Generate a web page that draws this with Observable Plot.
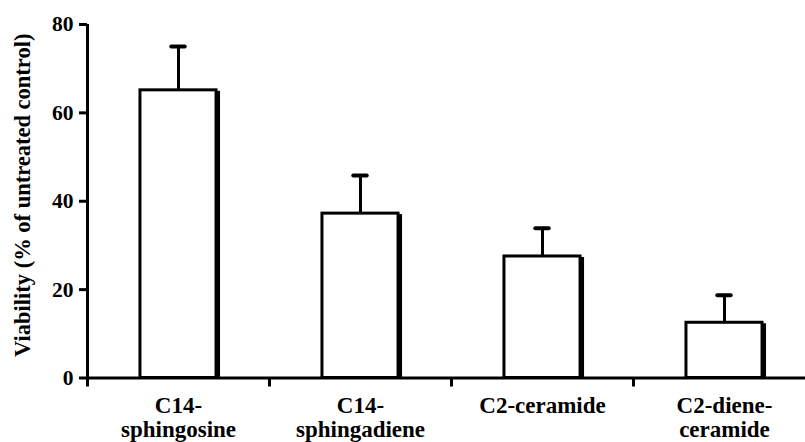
<!DOCTYPE html>
<html>
<head>
<meta charset="utf-8">
<script src="https://cdn.jsdelivr.net/npm/d3@7"></script>
<script src="https://cdn.jsdelivr.net/npm/@observablehq/plot@0.6"></script>
<style>
  html, body { margin: 0; padding: 0; background: #fff; }
</style>
</head>
<body>
<div id="chart"></div>
<script>
const categories = ["C14-\nsphingosine", "C14-\nsphingadiene", "C2-ceramide", "C2-diene-\nceramide"];
const viability = [65.1, 37.2, 27.5, 12.5];
const errorTop = [75.0, 45.8, 33.9, 18.7];
const yTicks = [0, 20, 40, 60, 80];
const yTitle = "Viability (% of untreated control)";

const data = categories.map((label, i) => ({i, label, v: viability[i], e: errorTop[i]}));
const hw = 0.209;   // half bar width in band units
const cw = 0.037;   // half cap width

const chart = Plot.plot({
  width: 805,
  height: 442,
  marginLeft: 87,
  marginRight: 0,
  marginTop: 24,
  marginBottom: 64.5,
  style: {fontFamily: "Liberation Serif", fontWeight: "bold", fontSize: "21px", color: "black", background: "white"},
  x: {type: "linear", domain: [0, 4], range: [87, 815]},
  y: {domain: [0, 80], nice: false},
  marks: [
    Plot.rect(data, {x1: d => d.i + 0.5 - hw, x2: d => d.i + 0.5 + hw, y1: 0, y2: "v", fill: "black", dx: 4, dy: 1}),
    Plot.rect(data, {x1: d => d.i + 0.5 - hw, x2: d => d.i + 0.5 + hw, y1: 0, y2: "v", fill: "white", stroke: "black", strokeWidth: 3}),
    Plot.ruleX(data, {x: d => d.i + 0.5, y1: "v", y2: "e", stroke: "black", strokeWidth: 3}),
    Plot.ruleY(data, {y: "e", x1: d => d.i + 0.5 - cw, x2: d => d.i + 0.5 + cw, stroke: "black", strokeWidth: 4, strokeLinecap: "round"}),
    Plot.ruleY([0], {stroke: "black", strokeWidth: 3}),
    Plot.ruleX([0], {y1: 0, y2: 80, stroke: "black", strokeWidth: 3}),
    Plot.axisY({ticks: yTicks, tickSize: 8, tickFormat: () => "", strokeWidth: 3, label: null}),
    Plot.text(yTicks, {x: 0, y: d => d, text: d => String(d), textAnchor: "end", dx: -14, fontSize: 21.5}),
    Plot.axisX({ticks: [0, 1, 2, 3], tickSize: 9, tickFormat: () => "", strokeWidth: 3, label: null}),
    Plot.text(data, {x: d => d.i + 0.5, y: 0, text: "label", lineAnchor: "top", dy: 18, fontSize: 23, lineHeight: 1.05}),
    Plot.text([yTitle], {frameAnchor: "left", textAnchor: "middle", rotate: -90, dx: -64.5, dy: -6, fontSize: 22.5})
  ]
});
document.getElementById("chart").appendChild(chart);
</script>
</body>
</html>
